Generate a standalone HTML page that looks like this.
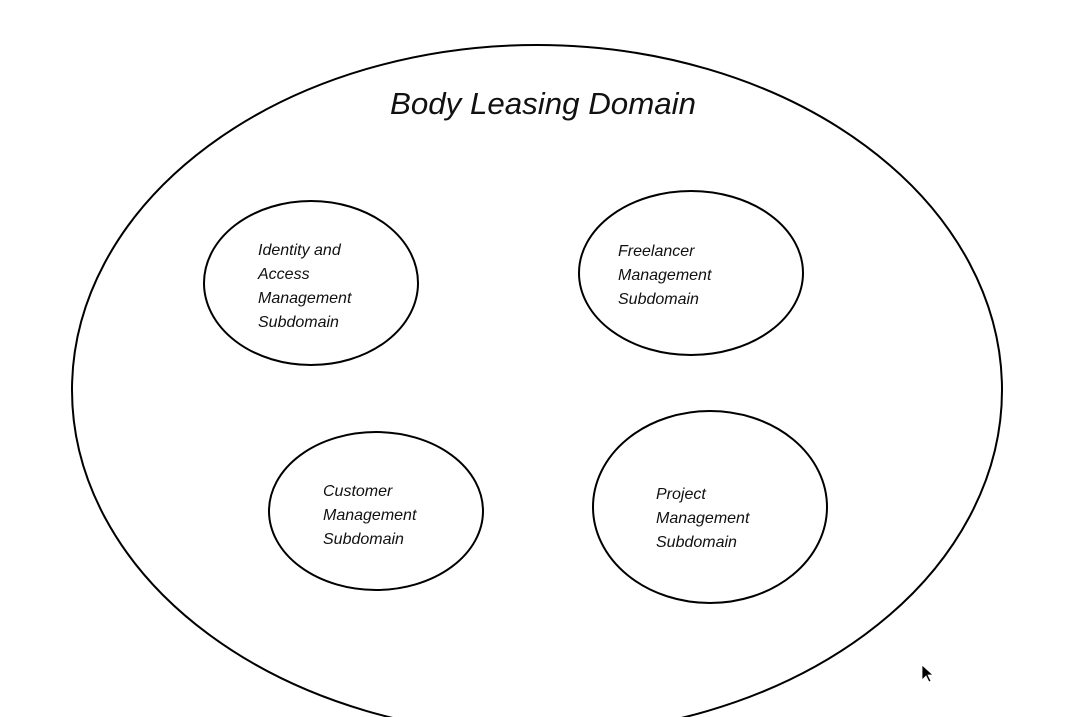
<!DOCTYPE html>
<html><head><meta charset="utf-8"><style>
html,body{margin:0;padding:0;background:#fff;}
svg{display:block}
text{font-family:"Liberation Sans",sans-serif;fill:#111;}
</style></head><body>
<svg width="1090" height="717" viewBox="0 0 1090 717" xmlns="http://www.w3.org/2000/svg">
<rect width="1090" height="717" fill="#fff"/>
<g fill="none" stroke="#000" stroke-width="2">
<ellipse cx="537" cy="390" rx="465" ry="345"/>
<ellipse cx="311" cy="283" rx="107" ry="82"/>
<ellipse cx="691" cy="273" rx="112" ry="82"/>
<ellipse cx="376" cy="511" rx="107" ry="79"/>
<ellipse cx="710" cy="507" rx="117" ry="96"/>
</g>
<text x="390" y="114" font-size="31" font-style="italic" textLength="306" lengthAdjust="spacingAndGlyphs">Body Leasing Domain</text>
<g font-size="16" font-style="italic">
<text x="258" y="255">Identity and</text>
<text x="258" y="279">Access</text>
<text x="258" y="303">Management</text>
<text x="258" y="327">Subdomain</text>
<text x="618" y="256">Freelancer</text>
<text x="618" y="280">Management</text>
<text x="618" y="304">Subdomain</text>
<text x="323" y="496">Customer</text>
<text x="323" y="520">Management</text>
<text x="323" y="544">Subdomain</text>
<text x="656" y="499">Project</text>
<text x="656" y="523">Management</text>
<text x="656" y="547">Subdomain</text>
</g>
<path d="M922 665 L922 680 L926 676 L929 682 L931 681 L928 675 L933 675 Z" fill="#000" stroke="#fff" stroke-width="0.8"/>
</svg>
</body></html>
